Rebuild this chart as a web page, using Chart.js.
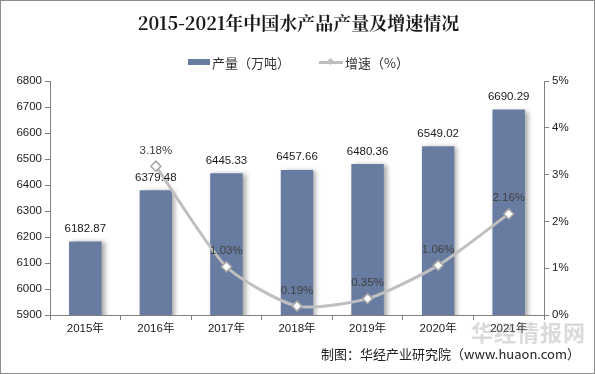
<!DOCTYPE html>
<html>
<head>
<meta charset="utf-8">
<script src="https://cdn.jsdelivr.net/npm/chart.js@4"></script>
<style>
  body { margin: 0; background: #fff; }
  #wrap { position: relative; width: 595px; height: 374px; box-sizing: border-box; border: 1px solid #8c8c8c; overflow: hidden; }
  canvas { position: absolute; left: 0; top: 0; }
  .title { position: absolute; top: 8px; left: 0; width: 595px; text-align: center; font: bold 18px "Noto Serif CJK SC", "DejaVu Serif", "Noto Sans CJK SC"; color: #1a1a1a; }
  .legend { position: absolute; top: 50px; left: 0; width: 595px; text-align: center; font: 13px "Noto Sans CJK SC"; color: #333; }
  .legend span { display: inline-block; vertical-align: middle; }
  .footer { position: absolute; top: 343px; right: 14px; font: 13px "Noto Sans CJK SC"; color: #222; }
  .wm { position: absolute; top: 314px; left: 470px; font: bold 22px "Noto Sans CJK SC"; color: rgba(150,150,150,0.35); letter-spacing: 1px; }
</style>
</head>
<body>
<div id="wrap">
  <canvas id="chart" width="595" height="374"></canvas>
  <div class="title">2015-2021年中国水产品产量及增速情况</div>
  <div class="legend">
    <span style="width:22px;height:6px;background:#687ba0;"></span><span style="margin:0 26px 0 2px;">产量（万吨）</span>
    <span style="position:relative;width:24px;height:3px;background:#bfbfbf;"><span style="position:absolute;left:9px;top:-2px;width:5px;height:5px;background:#bfbfbf;transform:rotate(45deg);"></span></span><span style="margin-left:2px;">增速（%）</span>
  </div>
  <div class="wm">华经情报网</div>
  <div class="footer">制图：华经产业研究院（www.huaon.com）</div>
</div>
<script>
// data
const years = ['2015年', '2016年', '2017年', '2018年', '2019年', '2020年', '2021年'];
const output = [6182.87, 6379.48, 6445.33, 6457.66, 6480.36, 6549.02, 6690.29];
const growth = [null, 3.18, 1.03, 0.19, 0.35, 1.06, 2.16];

const labelFont = '11.5px "Liberation Sans", "Noto Sans CJK SC"';

// draw the value labels on bars and points
const valueLabels = {
    id: 'valueLabels',
    afterDatasetsDraw(chart) {
        const ctx = chart.ctx;
        ctx.save();
        ctx.font = labelFont;
        ctx.textAlign = 'center';
        ctx.textBaseline = 'bottom';
        chart.getDatasetMeta(0).data.forEach((bar, i) => {
            ctx.fillStyle = '#1a1a1a';
            ctx.fillText(output[i].toFixed(2), bar.x, bar.y - 7);
        });
        chart.getDatasetMeta(1).data.forEach((pt, i) => {
            if (growth[i] == null) return;
            ctx.fillStyle = '#404040';
            ctx.fillText(growth[i].toFixed(2) + '%', pt.x, pt.y - 10);
        });
        ctx.restore();
    }
};

// soft shadow to the right of the bars
const barShadow = {
    id: 'barShadow',
    beforeDatasetDraw(chart, args) {
        if (args.index !== 0) return;
        const ctx = chart.ctx;
        ctx.save();
        ctx.shadowColor = 'rgba(0,0,0,0.35)';
        ctx.shadowBlur = 5;
        ctx.shadowOffsetX = 3;
        ctx.shadowOffsetY = 1;
    },
    afterDatasetDraw(chart, args) {
        if (args.index !== 0) return;
        chart.ctx.restore();
    }
};

const ctx = document.getElementById('chart').getContext('2d');
new Chart(ctx, {
    type: 'bar',
    data: {
        labels: years,
        datasets: [
            {
                label: '产量（万吨）',
                data: output,
                backgroundColor: '#687ba0',
                yAxisID: 'y',
                barPercentage: 0.46,
                categoryPercentage: 1,
                order: 2
            },
            {
                type: 'line',
                label: '增速（%）',
                data: growth,
                yAxisID: 'y1',
                borderColor: '#bfbfbf',
                borderWidth: 3,
                tension: 0.22,
                pointStyle: 'rectRot',
                pointRadius: 5,
                pointBackgroundColor: '#ffffff',
                pointBorderColor: '#a6a6a6',
                pointBorderWidth: 1.5,
                order: 1
            }
        ]
    },
    options: {
        responsive: false,
        animation: false,
        layout: { padding: { top: 80, bottom: 0, left: 0, right: 0 } },
        plugins: {
            legend: { display: false },
            title: { display: false },
            tooltip: { enabled: false }
        },
        scales: {
            x: {
                afterFit(scale) { scale.height = 60; },
                grid: { display: true, drawOnChartArea: false, color: '#808080', tickLength: 5, offset: true },
                border: { color: '#808080' },
                ticks: { color: '#1a1a1a', font: { size: 11.5, family: '"Liberation Sans", "Noto Sans CJK SC"' }, padding: 2 }
            },
            y: {
                position: 'left',
                min: 5900,
                max: 6800,
                afterFit(scale) { scale.width = 49; },
                grid: { display: true, drawOnChartArea: false, color: '#808080', tickLength: 5 },
                border: { color: '#808080' },
                ticks: { stepSize: 100, color: '#1a1a1a', font: { size: 11.5, family: '"Liberation Sans"' }, padding: 3,
                         callback: v => String(v) }
            },
            y1: {
                position: 'right',
                min: 0,
                max: 5,
                afterFit(scale) { scale.width = 52; },
                grid: { display: true, drawOnChartArea: false, color: '#808080', tickLength: 5 },
                border: { color: '#808080' },
                ticks: { stepSize: 1, color: '#1a1a1a', font: { size: 11.5, family: '"Liberation Sans"' }, padding: 3,
                         callback: v => v + '%' }
            }
        }
    },
    plugins: [barShadow, valueLabels]
});
</script>
</body>
</html>
